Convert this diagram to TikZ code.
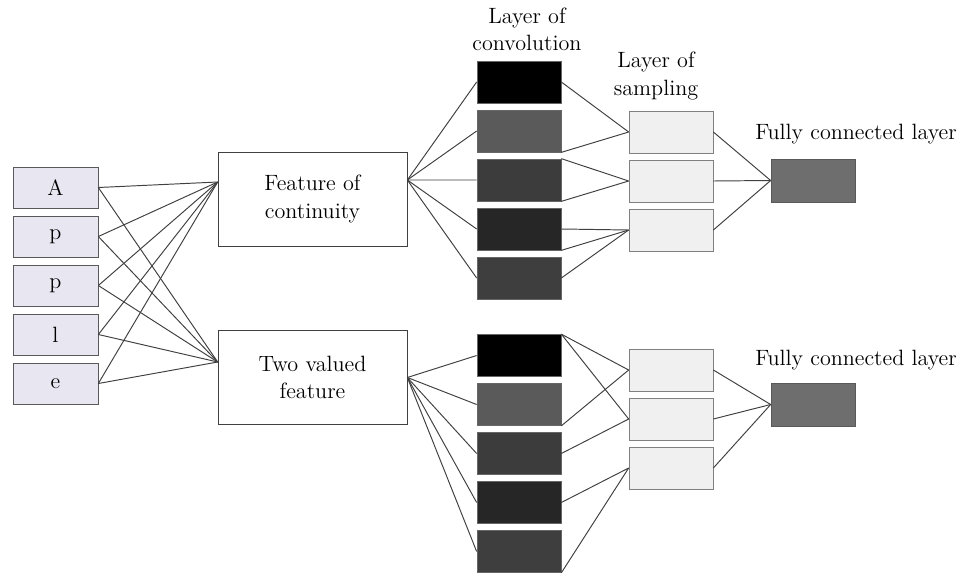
\documentclass[tikz,border=0pt]{standalone}
\usetikzlibrary{calc}

\definecolor{lilac}{HTML}{E8E6F1}
\definecolor{convA}{HTML}{000000}
\definecolor{convB}{HTML}{5A5A5A}
\definecolor{convC}{HTML}{3C3C3C}
\definecolor{convD}{HTML}{262626}
\definecolor{convE}{HTML}{3E3E3E}

\begin{document}
\begin{tikzpicture}[x=0.02cm, y=-0.02cm, font=\fontsize{12.6}{15.5}\selectfont,
  letter/.style={draw=black!65, fill=lilac, minimum width=1.7cm, minimum height=0.82cm, inner sep=0pt},
  feat/.style={draw=black!75, fill=white, minimum width=3.78cm, minimum height=1.88cm, align=center},
  conv/.style={draw=black!60, minimum width=1.68cm, minimum height=0.84cm, inner sep=0pt},
  samp/.style={draw=black!50, fill=black!6, minimum width=1.68cm, minimum height=0.84cm, inner sep=0pt},
  fc/.style={draw=black!65, fill=black!57, minimum width=1.68cm, minimum height=0.86cm, inner sep=0pt},
  link/.style={draw=black!75, line width=0.55pt}]
  \useasboundingbox (0,0) rectangle (974,575);

  % input letters
  \foreach \i/\c in {1/A, 2/p, 3/p, 4/l, 5/e} {
    \node[letter] (in\i) at (55.5, {187.5+49*(\i-1)}) {\c};
  }

  % two feature maps
  \node[feat] (cont) at (312.5,199) {Feature of\\continuity};
  \node[feat] (twov) at (312.5,377.5) {Two valued\\feature};
  \coordinate (cin)  at ([yshift=0.34cm]cont.west);
  \coordinate (tin)  at ([yshift=0.31cm]twov.west);
  \coordinate (cout) at ([yshift=0.38cm]cont.east);
  \coordinate (tout) at (twov.east);

  % convolution and sampling layers
  \foreach \k/\g in {1/convA, 2/convB, 3/convC, 4/convD, 5/convE} {
    \node[conv, fill=\g] (ca\k) at (519, {82+49*(\k-1)}) {};
    \node[conv, fill=\g] (cb\k) at (519, {355.5+49*(\k-1)}) {};
  }
  \foreach \k in {1,2,3} {
    \node[samp] (sa\k) at (671, {132+49*(\k-1)}) {};
    \node[samp] (sb\k) at (671, {370+49*(\k-1)}) {};
  }

  % fully connected layers
  \node[fc] (fa) at (813,180.5) {};
  \node[fc] (fb) at (813,404.5) {};

  % layer titles
  \node[align=center] (tconv) at (527,29) {Layer of\\convolution};
  \node[align=center] (tsamp) at (656,76) {Layer of\\sampling};
  \node (tfa) at (856,134) {Fully connected layer};
  \node (tfb) at (856,360) {Fully connected layer};

  % letters to features
  \foreach \i in {1,...,5} {
    \draw[link] (in\i.east) -- (cin);
    \draw[link] (in\i.east) -- (tin);
  }

  % features to convolution
  \foreach \k in {1,...,5} {
    \draw[link] (cout) -- (ca\k.west);
    \draw[link] (tout) -- (cb\k.west);
  }

  % convolution to sampling
  \foreach \c/\s in {ca1.east/sa1, ca2.south east/sa1, ca3.north east/sa2, ca3.south east/sa2,
                     ca4.east/sa3, ca4.south east/sa3, ca5.east/sa3}
    \draw[link] (\c) -- (\s.west);
  \foreach \c/\s in {cb1.north east/sb1, cb1.north east/sb2, cb2.south east/sb1, cb3.east/sb2,
                     cb4.east/sb3, cb5.south east/sb3}
    \draw[link] (\c) -- (\s.west);

  % sampling to fully connected
  \foreach \k in {1,2,3} {
    \draw[link] (sa\k.east) -- (fa.west);
    \draw[link] (sb\k.east) -- (fb.west);
  }
\end{tikzpicture}
\end{document}
